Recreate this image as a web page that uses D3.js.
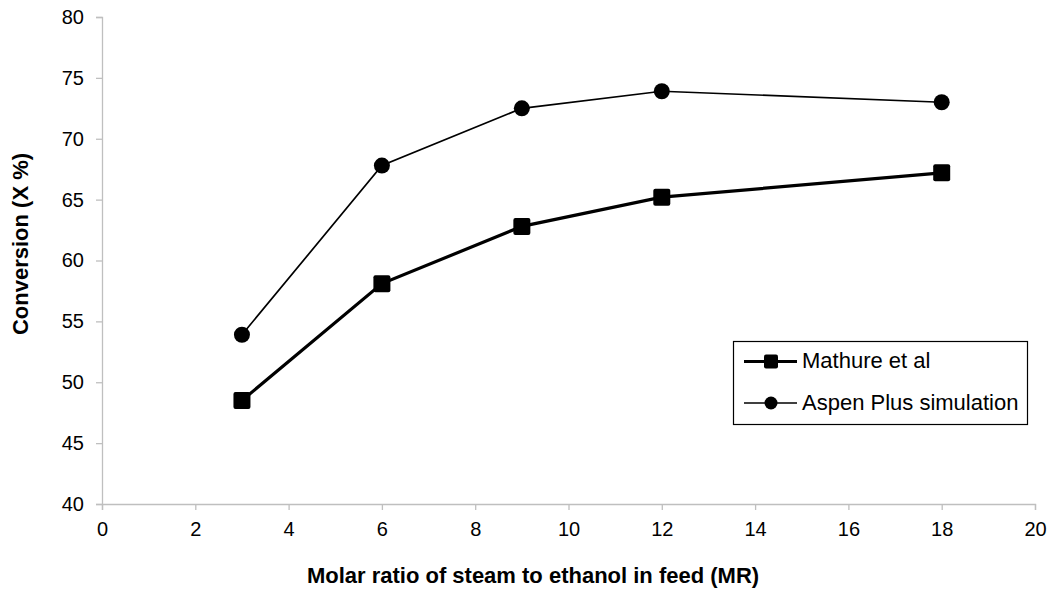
<!DOCTYPE html>
<html>
<head>
<meta charset="utf-8">
<script src="https://cdn.jsdelivr.net/npm/d3@7"></script>
<style>
  html, body { margin: 0; padding: 0; background: #fff; }
  svg { display: block; font-family: "Liberation Sans", Arial, sans-serif; }
</style>
</head>
<body>
<svg id="chart" width="1051" height="594"></svg>
<script>
// Molar ratio of steam to ethanol (x) and conversion (%) for each source
const molarRatio = [3, 6, 9, 12, 18];
const mathure = [48.5, 58.1, 62.8, 65.2, 67.2];
const aspen = [53.9, 67.8, 72.5, 73.9, 73.0];
const xTicks = [0, 2, 4, 6, 8, 10, 12, 14, 16, 18, 20];
const yTicks = [40, 45, 50, 55, 60, 65, 70, 75, 80];
const seriesNames = ["Mathure et al", "Aspen Plus simulation"];

const svg = d3.select("#chart");
const margin = { left: 102, right: 16, top: 17, bottom: 90 };
const W = 1051, H = 594;

const x = d3.scaleLinear().domain([0, 20]).range([margin.left, W - margin.right]);
const y = d3.scaleLinear().domain([40, 80]).range([H - margin.bottom, margin.top]);

const axisColor = "#bfbfbf";

// X axis
const gx = svg.append("g")
  .attr("transform", `translate(0,${y(40)})`)
  .call(d3.axisBottom(x).tickValues(xTicks).tickSize(6).tickPadding(12));
// Y axis
const gy = svg.append("g")
  .attr("transform", `translate(${x(0)},0)`)
  .call(d3.axisLeft(y).tickValues(yTicks).tickSize(6).tickPadding(12));

[gx, gy].forEach(g => {
  g.select(".domain").attr("stroke", axisColor).attr("stroke-width", 1.3);
  g.selectAll(".tick line").attr("stroke", axisColor).attr("stroke-width", 1.3);
  g.selectAll(".tick text")
    .attr("fill", "#000")
    .style("font-size", "20px")
    .style("font-family", "'Liberation Sans', Arial, sans-serif");
});

// Axis titles
svg.append("text")
  .attr("x", 533)
  .attr("y", 583)
  .attr("text-anchor", "middle")
  .style("font-size", "22px")
  .style("font-weight", "bold")
  .text("Molar ratio of steam to ethanol in feed (MR)");

svg.append("text")
  .attr("transform", `translate(28,244) rotate(-90)`)
  .attr("text-anchor", "middle")
  .style("font-size", "22px")
  .style("font-weight", "bold")
  .text("Conversion (X %)");

const line = d3.line().x(d => x(d[0])).y(d => y(d[1]));

// Mathure et al: thick line with square markers
const mData = molarRatio.map((m, i) => [m, mathure[i]]);
svg.append("path")
  .datum(mData)
  .attr("d", line)
  .attr("fill", "none")
  .attr("stroke", "#000")
  .attr("stroke-width", 3.2);
const sq = 17;
svg.selectAll(".sq").data(mData).enter().append("rect")
  .attr("x", d => x(d[0]) - sq / 2)
  .attr("y", d => y(d[1]) - sq / 2)
  .attr("width", sq).attr("height", sq)
  .attr("rx", 2).attr("fill", "#000");

// Aspen Plus simulation: thin line with circle markers
const aData = molarRatio.map((m, i) => [m, aspen[i]]);
svg.append("path")
  .datum(aData)
  .attr("d", line)
  .attr("fill", "none")
  .attr("stroke", "#000")
  .attr("stroke-width", 1.7);
svg.selectAll(".dot").data(aData).enter().append("circle")
  .attr("cx", d => x(d[0]))
  .attr("cy", d => y(d[1]))
  .attr("r", 8)
  .attr("fill", "#000");

// Legend
const lg = svg.append("g");
lg.append("rect")
  .attr("x", 733.5).attr("y", 341.5)
  .attr("width", 294).attr("height", 83)
  .attr("fill", "#fff").attr("stroke", "#000").attr("stroke-width", 1.2);

const rows = [
  { name: seriesNames[0], yy: 361.5, base: 368, sw: 3.2, marker: "square" },
  { name: seriesNames[1], yy: 403, base: 410, sw: 1.7, marker: "circle" }
];
rows.forEach(r => {
  lg.append("line")
    .attr("x1", 744).attr("x2", 797)
    .attr("y1", r.yy).attr("y2", r.yy)
    .attr("stroke", "#000").attr("stroke-width", r.sw);
  if (r.marker === "square") {
    lg.append("rect").attr("x", 771 - 7).attr("y", r.yy - 7)
      .attr("width", 14).attr("height", 14).attr("rx", 2).attr("fill", "#000");
  } else {
    lg.append("circle").attr("cx", 771).attr("cy", r.yy).attr("r", 6.5).attr("fill", "#000");
  }
  lg.append("text")
    .attr("x", 802).attr("y", r.base)
    .style("font-size", "22px")
    .text(r.name);
});
</script>
</body>
</html>
